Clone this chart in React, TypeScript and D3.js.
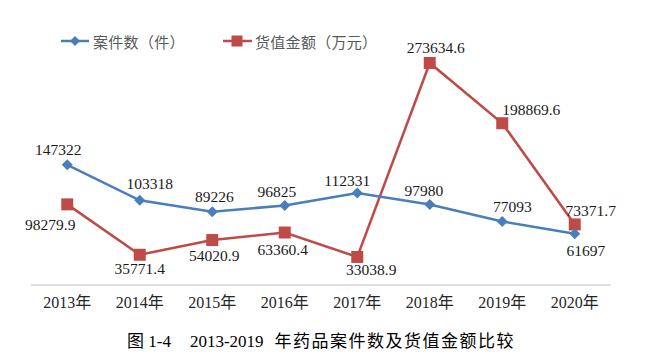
import React from "react";
import * as d3 from "d3";

const years = ["2013年", "2014年", "2015年", "2016年", "2017年", "2018年", "2019年", "2020年"];
const caseCounts = [147322, 103318, 89226, 96825, 112331, 97980, 77093, 61697];
const goodsValue = [98279.9, 35771.4, 54020.9, 63360.4, 33038.9, 273634.6, 198869.6, 73371.7];
const caseLabels = ["147322", "103318", "89226", "96825", "112331", "97980", "77093", "61697"];
const valueLabels = ["98279.9", "35771.4", "54020.9", "63360.4", "33038.9", "273634.6", "198869.6", "73371.7"];
const seriesNames = ["案件数（件）", "货值金额（万元）"];
const captionPrefix = "图 1-4";
const captionYears = "2013-2019";
const captionText = "年药品案件数及货值金额比较";

// label placement offsets (layout only)
const blueOff: [number, number][] = [[-9, -15], [10, -17], [2, -15], [-8, -14], [-10, -13], [-6, -14], [10, -15], [11, 17]];
const redOff: [number, number][] = [[-17, 20], [0, 14], [2, 15], [-2, 17], [14, 13], [6, -15], [29, -14], [16, -14]];

const W = 654, H = 359;
const BLUE = "#4A7EBB";
const RED = "#BE4B48";

export default function App() {
  const x = d3.scaleBand<string>().domain(years).range([31, 611]).padding(0);
  const cx = (c: string) => (x(c) as number) + x.bandwidth() / 2;
  const y = d3.scaleLinear().domain([0, 300000]).range([283.6, 41.7]);
  const line = d3.line<[string, number]>().x(d => cx(d[0])).y(d => y(d[1]));
  const blue = years.map((c, i) => [c, caseCounts[i]] as [string, number]);
  const red = years.map((c, i) => [c, goodsValue[i]] as [string, number]);
  const serif = "'Liberation Serif', 'Times New Roman', 'Noto Sans CJK SC', serif";
  const cjk = "'Noto Sans CJK SC', sans-serif";
  const diamond = (px: number, py: number, r = 5.5) => `M${px},${py - r}L${px + r},${py}L${px},${py + r}L${px - r},${py}Z`;

  return (
    <svg width={W} height={H} style={{ position: "absolute", left: 0, top: 0, background: "#fff" }}>
      <rect width={W} height={H} fill="#fff" />
      {/* legend */}
      <line x1={61} x2={89} y1={41} y2={41} stroke={BLUE} strokeWidth={2.5} />
      <path d={diamond(75, 41, 5)} fill={BLUE} />
      <text x={93} y={41} dominantBaseline="central" fontFamily={cjk} fontSize={15} letterSpacing={0.3} fill="#595959">{seriesNames[0]}</text>
      <line x1={223} x2={252} y1={41} y2={41} stroke={RED} strokeWidth={2.5} />
      <rect x={231.5} y={35.5} width={11} height={11} fill={RED} />
      <text x={255} y={41} dominantBaseline="central" fontFamily={cjk} fontSize={15} letterSpacing={0.3} fill="#595959">{seriesNames[1]}</text>

      {/* axis */}
      <line x1={31} x2={611} y1={285} y2={285} stroke="#BFBFBF" strokeWidth={1.2} />
      {years.map(c => (
        <text key={c} x={cx(c)} y={302} textAnchor="middle" dominantBaseline="central" fontFamily={serif} fontSize={16} fill="#262626">{c}</text>
      ))}

      {/* lines */}
      <path d={line(red) as string} fill="none" stroke={RED} strokeWidth={2.5} />
      <path d={line(blue) as string} fill="none" stroke={BLUE} strokeWidth={2.5} />
      {red.map(d => (
        <rect key={"r" + d[0]} x={cx(d[0]) - 6} y={y(d[1]) - 6} width={12} height={12} fill={RED} />
      ))}
      {blue.map(d => (
        <path key={"b" + d[0]} d={diamond(cx(d[0]), y(d[1]))} fill={BLUE} />
      ))}

      {/* data labels */}
      {blue.map((d, i) => (
        <text key={"bl" + i} x={cx(d[0]) + blueOff[i][0]} y={y(d[1]) + blueOff[i][1]} textAnchor="middle" dominantBaseline="central" fontFamily={serif} fontSize={15.5} fill="#1a1a1a">{caseLabels[i]}</text>
      ))}
      {red.map((d, i) => (
        <text key={"rl" + i} x={cx(d[0]) + redOff[i][0]} y={y(d[1]) + redOff[i][1]} textAnchor="middle" dominantBaseline="central" fontFamily={serif} fontSize={15.5} fill="#1a1a1a">{valueLabels[i]}</text>
      ))}

      {/* caption */}
      <text x={127} y={341} dominantBaseline="central" fontFamily={serif} fontSize={17} fill="#000">
        <tspan>{captionPrefix}</tspan>
        <tspan dx={19}>{captionYears}</tspan>
        <tspan dx={11} letterSpacing={1.5}>{captionText}</tspan>
      </text>
    </svg>
  );
}
